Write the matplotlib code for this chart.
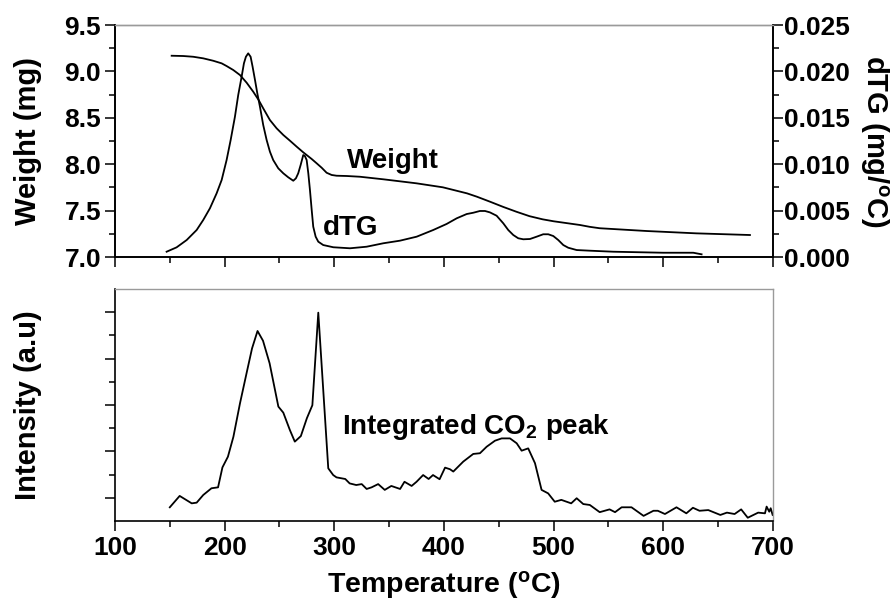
import numpy as np
import matplotlib
matplotlib.use('Agg')
import matplotlib.pyplot as plt
from matplotlib.ticker import MultipleLocator, FixedLocator, FormatStrFormatter

plt.rcParams['font.family'] = 'Liberation Sans'
plt.rcParams['font.weight'] = 'bold'
plt.rcParams['mathtext.fontset'] = 'custom'
plt.rcParams['mathtext.rm'] = 'Liberation Sans:bold'
plt.rcParams['mathtext.it'] = 'Liberation Sans:bold'
plt.rcParams['mathtext.bf'] = 'Liberation Sans:bold'
plt.rcParams['mathtext.default'] = 'rm'

# weight loss curve (mg)
weight_temp = [151.7, 162.3, 171.4, 180.5, 189.6, 197.3, 201.8, 207.9, 214, 220.1, 226.1, 231,
               235.2, 241.3, 247.4, 253.5, 259.6, 265.7, 271.7, 274.8, 279.4, 283.9, 288.5, 293,
               297.6, 302.1, 311.3, 323.4, 345, 375, 399, 421, 430, 442, 454, 466, 478, 490,
               500, 512, 524, 533, 542, 585, 630, 679]
weight_mg = [9.169, 9.166, 9.158, 9.141, 9.115, 9.087, 9.058, 9.015, 8.961, 8.878, 8.781, 8.692,
             8.602, 8.476, 8.387, 8.315, 8.253, 8.189, 8.128, 8.099, 8.056, 8.010, 7.962, 7.908,
             7.884, 7.876, 7.873, 7.865, 7.837, 7.794, 7.751, 7.686, 7.650, 7.596, 7.540, 7.488, 7.440, 7.406,
             7.385, 7.365, 7.345, 7.325, 7.310, 7.280, 7.255, 7.237]

# derivative curve (mg/C)
dtg_temp = [147.1, 156.2, 165.4, 174.5, 180.5, 186.6, 192.7, 197.3, 201.8, 205.5, 209.4, 212.4,
            215.5, 217.6, 219.4, 221.5, 223.7, 225.5, 227.7, 229.8, 232.2, 235.2, 238.3, 241.3,
            244.3, 248.9, 253.5, 258, 262.6, 265, 267.1, 269.3, 271.7, 273.2, 274.8, 276.3, 277.8,
            279.4, 280.8, 283, 285.4, 289.9, 299.1, 314.3, 329.5, 344.7, 359.9, 375.1, 390.2,
            402.4, 411.6, 420.7, 426.7, 432.8, 437.4, 441.9, 448, 454.1, 458.6, 463.2, 467.7,
            472.3, 478.4, 484.5, 490.5, 495.1, 499.7, 504.2, 508.8, 513.3, 521, 533.1, 554.4,
            600, 627.3, 634.9]
dtg_val = [0.00057, 0.00104, 0.00183, 0.00291, 0.00399, 0.00525, 0.00686, 0.00830, 0.01045, 0.01261,
           0.01512, 0.01746, 0.01943, 0.02087, 0.02158, 0.02195, 0.02158, 0.02051, 0.01907, 0.01764,
           0.01620, 0.01422, 0.01261, 0.01135, 0.01045, 0.00956, 0.00902, 0.00859, 0.00822, 0.00848,
           0.00902, 0.00991, 0.01099, 0.01088, 0.01045, 0.00902, 0.00722, 0.00506, 0.00327, 0.00219,
           0.00165, 0.00129, 0.00105, 0.00094, 0.00111, 0.00148, 0.00176, 0.00219, 0.00291,
           0.00356, 0.00417, 0.00463, 0.00477, 0.00496, 0.00496, 0.00481, 0.00445, 0.00363, 0.00291,
           0.00237, 0.00202, 0.00191, 0.00194, 0.00219, 0.00245, 0.00245, 0.00226, 0.00183, 0.00129,
           0.00100, 0.00075, 0.00068, 0.00057, 0.00046, 0.00046, 0.00029]

# integrated CO2 signal (a.u.)
co2_temp = [150, 159, 170, 174.5, 180.5, 188, 194, 198, 203, 208, 214, 220, 225, 230, 235, 241,
            249, 253.5, 259.5, 264, 269.5, 275, 280, 285.4, 294.5, 299, 302, 310, 314, 320, 325,
            329.5, 334, 340, 346, 352, 360, 364, 370.5, 375, 381, 386, 390, 396, 401, 405.5,
            408.5, 417.6, 426.7, 432.8, 438.9, 446.5, 452.6, 460.2, 466.3, 470.8, 476.8, 483,
            489, 495, 501, 507, 516, 521, 527, 533, 542, 551, 556, 562, 571, 582, 591, 595, 601.5,
            612, 621, 627, 633, 641, 652, 658, 665, 671, 677, 686.5, 692.7, 694.2, 696.6, 697.9, 699.7]
co2_int = [0.59, 1.08, 0.76, 0.79, 1.12, 1.41, 1.45, 2.31, 2.77, 3.63, 5.07, 6.37, 7.44, 8.19, 7.77, 6.80,
           4.93, 4.67, 3.92, 3.42, 3.66, 4.43, 4.99, 8.98, 2.27, 1.98, 1.88, 1.81, 1.62, 1.55, 1.59,
           1.38, 1.45, 1.59, 1.34, 1.51, 1.38, 1.69, 1.51, 1.69, 1.98, 1.81, 1.98, 1.80, 2.30, 2.23,
           2.13, 2.56, 2.89, 2.92, 3.20, 3.46, 3.56, 3.56, 3.35, 3.03, 3.13, 2.49,
           1.34, 1.19, 0.83, 0.91, 0.76, 0.98, 0.73, 0.69, 0.38, 0.50, 0.38, 0.59, 0.59, 0.22, 0.44, 0.44, 0.30,
           0.59, 0.33, 0.57, 0.44, 0.47, 0.26, 0.36, 0.30, 0.50, 0.14, 0.36, 0.33, 0.62, 0.40, 0.55, 0.26]

lw = 1.3
grey = '#9a9a9a'
tick_fs = 19
label_fs = 21

fig = plt.figure(figsize=(8.96, 6.06), dpi=100)
ax1 = fig.add_axes([0.1283, 0.5759, 0.7344, 0.3828])
ax2 = ax1.twinx()
ax3 = fig.add_axes([0.1283, 0.1403, 0.7344, 0.3828])

ax1.plot(weight_temp, weight_mg, color='black', lw=lw)
ax2.plot(dtg_temp, dtg_val, color='black', lw=lw)
ax3.plot(co2_temp, co2_int, color='black', lw=lw)

# top panel axes
ax1.set_xlim(100, 700)
ax1.set_ylim(7.0, 9.5)
ax2.set_ylim(0, 0.025)
ax1.xaxis.set_major_locator(MultipleLocator(100))
ax1.xaxis.set_minor_locator(MultipleLocator(50))
ax1.yaxis.set_major_locator(MultipleLocator(0.5))
ax1.yaxis.set_minor_locator(MultipleLocator(0.25))
ax1.yaxis.set_major_formatter(FormatStrFormatter('%.1f'))
ax2.yaxis.set_major_locator(MultipleLocator(0.005))
ax2.yaxis.set_minor_locator(MultipleLocator(0.0025))
ax2.yaxis.set_major_formatter(FormatStrFormatter('%.3f'))
ax1.tick_params(axis='x', labelbottom=False)
ax1.set_ylabel('Weight (mg)', fontsize=label_fs, fontweight='bold')
ax1.yaxis.set_label_coords(-0.111, 0.5)
ax2.set_ylabel(r'dTG (mg/$^{o}$C)', fontsize=label_fs, fontweight='bold', rotation=270)
ax2.yaxis.set_label_coords(1.178, 0.5)

ax1.text(353, 8.03, 'Weight', fontsize=20, fontweight='bold', ha='center', va='center')
ax2.text(315, 0.0031, 'dTG', fontsize=20, fontweight='bold', ha='center', va='center')

# bottom panel axes
ax3.set_xlim(100, 700)
ax3.set_ylim(0, 10)
ax3.xaxis.set_major_locator(MultipleLocator(100))
ax3.xaxis.set_minor_locator(MultipleLocator(50))
ax3.yaxis.set_major_locator(FixedLocator([1, 3, 5, 7, 9]))
ax3.yaxis.set_minor_locator(FixedLocator([2, 4, 6, 8]))
ax3.tick_params(axis='y', labelleft=False)
ax3.set_ylabel('Intensity (a.u)', fontsize=label_fs, fontweight='bold')
ax3.yaxis.set_label_coords(-0.111, 0.5)
ax3.set_xlabel(r'Temperature ($^{o}$C)', fontsize=20.5, fontweight='bold', labelpad=6)
ax3.text(307, 4.05, r'Integrated CO$_{2}$ peak', fontsize=20, fontweight='bold', ha='left', va='center')

for ax in (ax1, ax2, ax3):
    ax.tick_params(which='major', direction='out', length=7, width=1.1, labelsize=tick_fs, pad=3)
    ax.tick_params(which='minor', direction='out', length=4, width=1.1)
    for lab in ax.get_xticklabels() + ax.get_yticklabels():
        lab.set_fontweight('bold')
    for s in ax.spines.values():
        s.set_linewidth(1.2)

ax2.tick_params(axis='y', which='major', pad=1)
ax3.tick_params(axis='x', which='major', pad=4)
ax1.tick_params(axis='x', which='both', top=False)
for ax in (ax1, ax2):
    ax.spines['top'].set_color(grey)
    ax.spines['top'].set_linewidth(1.0)
ax3.spines['top'].set_color(grey)
ax3.spines['right'].set_color(grey)
ax3.spines['top'].set_linewidth(1.0)
ax3.spines['right'].set_linewidth(1.0)

fig.savefig('out.png', dpi=100)
